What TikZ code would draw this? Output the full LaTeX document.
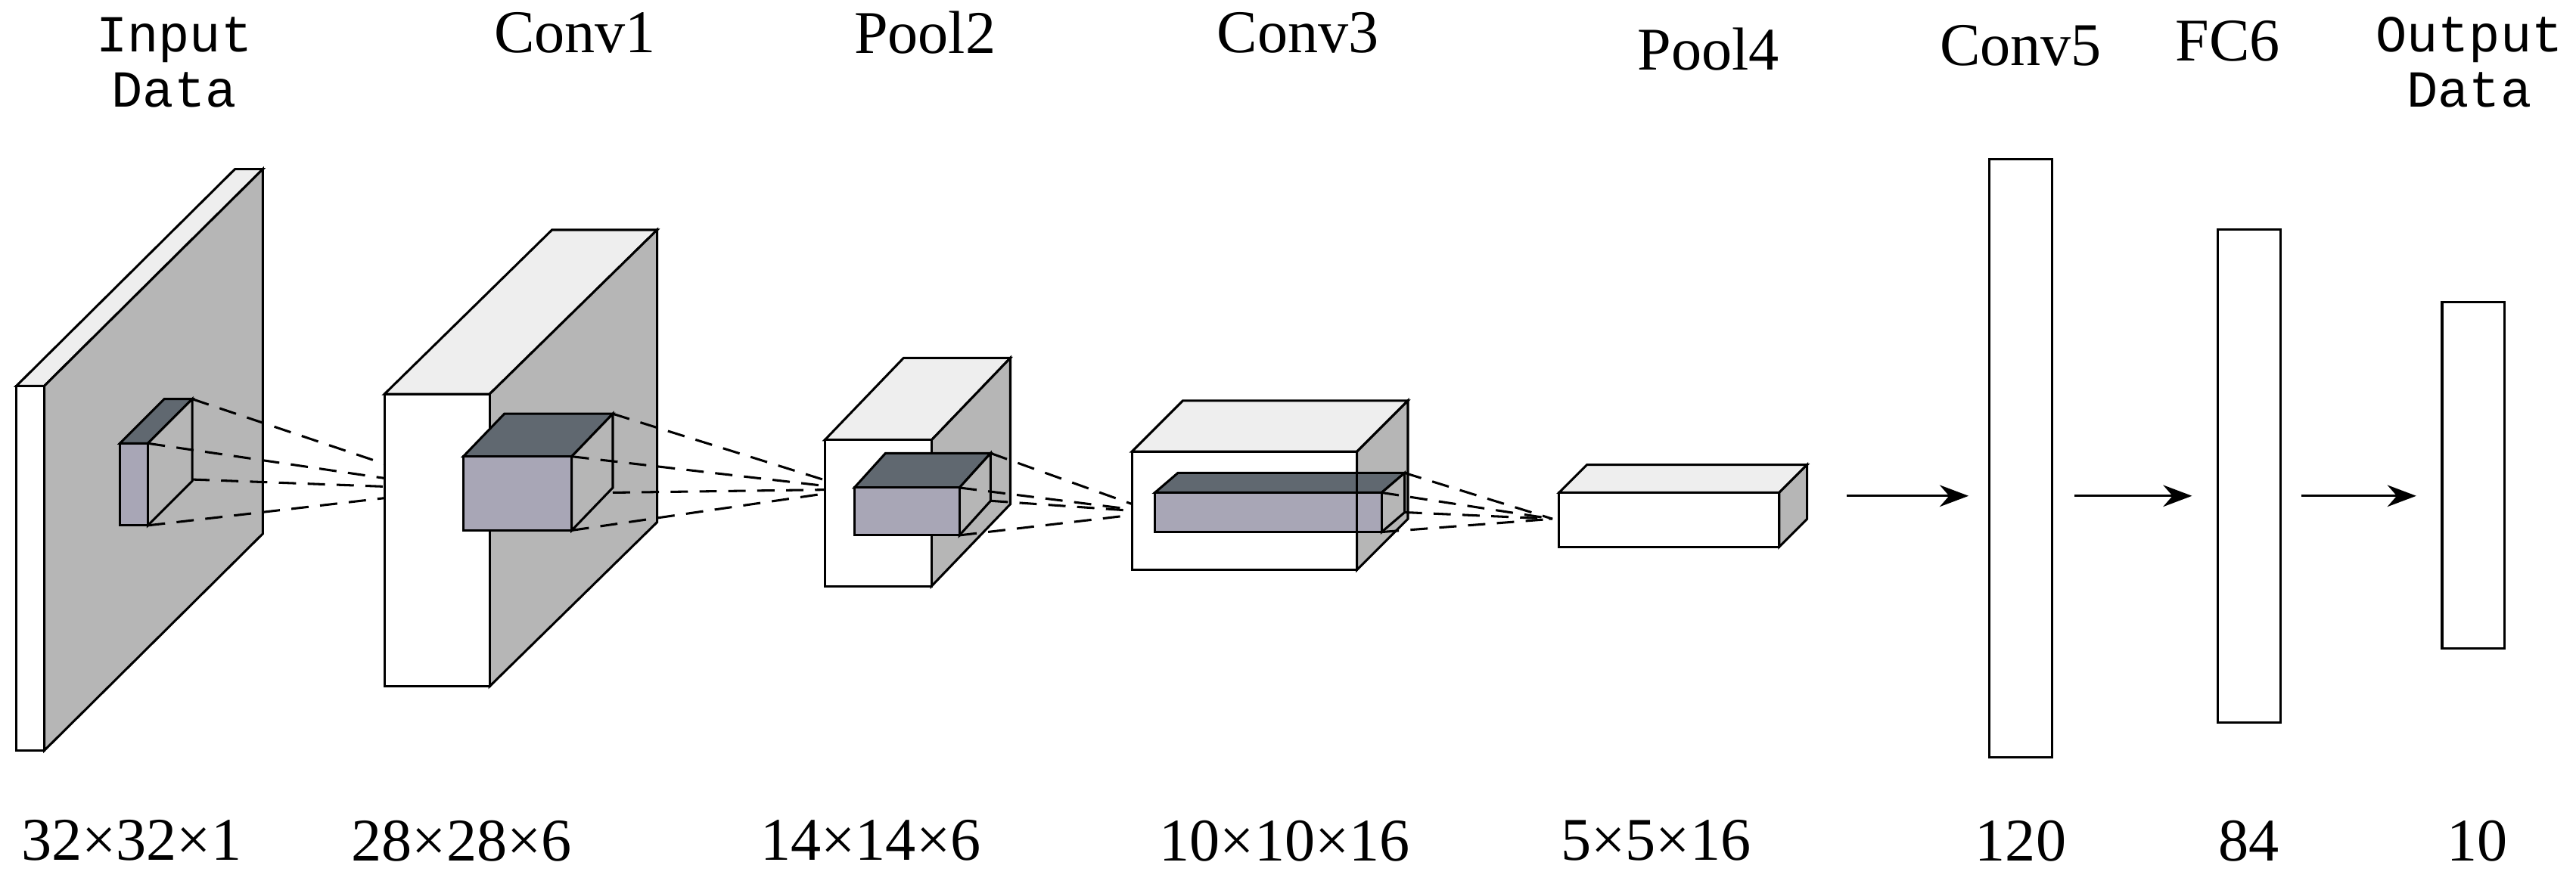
\documentclass[tikz,border=0pt]{standalone}
\usepackage{fontspec}
\setmainfont{Liberation Serif}
\newfontfamily\monofont{Liberation Mono}
\usetikzlibrary{arrows.meta, positioning}
\definecolor{sidegray}{RGB}{182,182,182}
\definecolor{topgray}{RGB}{238,238,238}
\definecolor{kernfront}{RGB}{168,166,182}
\definecolor{kerntop}{RGB}{96,104,112}
% cuboid: x1,y1 (front top left), x2,y2 (front bottom right), dx, dy, front, top, side
\newcommand{\cuboid}[9]{%
  \fill[#8,draw=black] (#1,#2) -- ++(#5,-#6) -- ($(#3,#2)+(#5,-#6)$) -- (#3,#2) -- cycle;
  \fill[#9,draw=black] (#3,#2) -- ++(#5,-#6) -- ($(#3,#4)+(#5,-#6)$) -- (#3,#4) -- cycle;
  \filldraw[fill=#7,draw=black] (#1,#2) rectangle (#3,#4);}
\usetikzlibrary{calc}
\begin{document}
\begin{tikzpicture}[
    x=0.01cm, y=-0.01cm,
    every node/.style={font=\fontsize{10.5}{11}\selectfont},
    mono/.style={font=\fontsize{9}{9.5}\monofont, align=center},
    layer/.style={draw, fill=white, inner sep=0pt, minimum width=0.38cm},
    kern/.style={densely dashed, thin},
    flow/.style={-{Stealth[length=5pt]}, thin}
  ]
  \useasboundingbox (0,0) rectangle (1568,540);

  % Input data
  \cuboid{10}{235}{27}{457}{133}{132}{white}{topgray}{sidegray}
  \cuboid{73}{270}{90}{320}{27}{27}{kernfront}{kerntop}{sidegray}
  \coordinate (k1) at (280,298);
  \foreach \p in {(117,243),(117,292),(90,320),(90,270)} \draw[kern] \p -- (k1);

  % Conv1
  \cuboid{234}{240}{298}{418}{102}{100}{white}{topgray}{sidegray}
  \draw (298,320) -- (298,380);
  \cuboid{282}{278}{348}{323}{25}{26}{kernfront}{kerntop}{sidegray}
  \coordinate (k2) at (520,298);
  \foreach \p in {(373,252),(373,300),(348,323),(348,278)} \draw[kern] \p -- (k2);

  % Pool2
  \cuboid{502}{268}{567}{357}{48}{50}{white}{topgray}{sidegray}
  \cuboid{520}{297}{584}{326}{19}{21}{kernfront}{kerntop}{sidegray}
  \coordinate (k3) at (703,312);
  \foreach \p in {(603,276),(603,305),(584,326),(584,297)} \draw[kern] \p -- (k3);

  % Conv3
  \cuboid{689}{275}{826}{347}{31}{31}{white}{topgray}{sidegray}
  \cuboid{703}{300}{841}{324}{14}{12}{kernfront}{kerntop}{sidegray}
  \draw (826,288) -- (826,347);
  \coordinate (k4) at (945,316);
  \foreach \p in {(855,288),(855,312),(841,324),(841,300)} \draw[kern] \p -- (k4);

  % Pool4
  \cuboid{949}{300}{1083}{333}{17}{17}{white}{topgray}{sidegray}

  % fully connected layers
  \node[layer, minimum height=3.64cm] (conv5) at (1230,279) {};
  \node[layer, minimum height=3.00cm] (fc6) at (1369,290) {};
  \node[layer, minimum height=2.11cm] (out) at (1505.5,289.5) {};
  \coordinate (a1) at (1124,302);
  \draw[flow] (a1) -- ([xshift=-0.12cm]conv5.west |- a1);
  \draw[flow] ([xshift=0.13cm]conv5.east |- a1) -- ([xshift=-0.15cm]fc6.west |- a1);
  \draw[flow] ([xshift=0.12cm]fc6.east |- a1) -- ([xshift=-0.15cm]out.west |- a1);

  % titles
  \node[mono] (tin) at (106,38) {Input\\Data};
  \node (tc1) at (350,20) {Conv1};
  \node (tp2) at (563,20) {Pool2};
  \node (tc3) at (790,20) {Conv3};
  \node (tp4) at (1040,30) {Pool4};
  \node (tc5) at (1230,28) {Conv5};
  \node (tf6) at (1356,25) {FC6};
  \node[mono] (tout) at (1503,38) {Output\\Data};

  % sizes
  \node (s1) at (80,512) {32×32×1};
  \node (s2) at (281,512) {28×28×6};
  \node (s3) at (530,512) {14×14×6};
  \node (s4) at (782,512) {10×10×16};
  \node (s5) at (1008,512) {5×5×16};
  \node (s6) at (1230,512) {120};
  \node (s7) at (1369,512) {84};
  \node (s8) at (1508,512) {10};
\end{tikzpicture}
\end{document}
